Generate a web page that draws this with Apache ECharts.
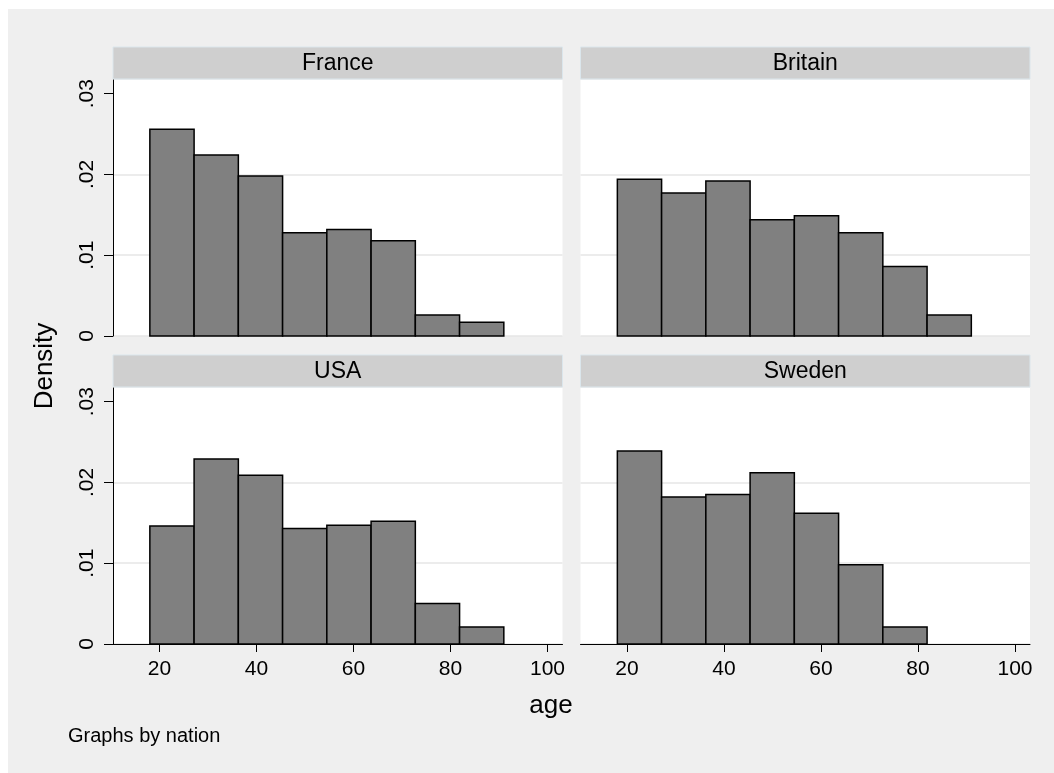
<!DOCTYPE html>
<html>
<head>
<meta charset="utf-8">
<script src="https://cdn.jsdelivr.net/npm/echarts@6/dist/echarts.min.js"></script>
<style>
html,body{margin:0;padding:0;background:#fff;}
#chart{position:absolute;left:0;top:0;width:1054px;height:773px;}
</style>
</head>
<body>
<div id="chart"></div>
<script>
// ---- data ----
const panels = ["France", "Britain", "USA", "Sweden"];
const binEdges = [18, 27.125, 36.25, 45.375, 54.5, 63.625, 72.75, 81.875, 91];
const france  = [0.0256, 0.0224, 0.0198, 0.0128, 0.0132, 0.0118, 0.0026, 0.0017];
const britain = [0.0194, 0.0177, 0.0192, 0.0144, 0.0149, 0.0128, 0.0086, 0.0026];
const usa     = [0.0146, 0.0229, 0.0209, 0.0143, 0.0147, 0.0152, 0.0050, 0.0021];
const sweden  = [0.0239, 0.0182, 0.0185, 0.0212, 0.0162, 0.0098, 0.0021];
const xTicks = [20, 40, 60, 80, 100];
const yTicks = [0, 0.01, 0.02, 0.03];
const yTickLabels = ["0", ".01", ".02", ".03"];
const xTitle = "age";
const yTitle = "Density";
const note = "Graphs by nation";

const seriesValues = [france, britain, usa, sweden];
const FONT = "'Liberation Sans', Arial, sans-serif";

const gridPos = [
  {left: 113, top: 80,  width: 449.5, height: 256},
  {left: 580.5, top: 80,  width: 449.5, height: 256},
  {left: 113, top: 388, width: 449.5, height: 256},
  {left: 580.5, top: 388, width: 449.5, height: 256}
];

const grids = gridPos.map(g => Object.assign({show: true, backgroundColor: '#fff', borderWidth: 0}, g));

const xAxes = gridPos.map((g, i) => {
  const bottom = i >= 2;
  return {
    type: 'value', gridIndex: i, min: 10.4, max: 103.1,
    show: bottom,
    axisLine: {show: true, onZero: false, lineStyle: {color: '#000', width: 1}},
    axisTick: {show: true, length: 8, customValues: xTicks, lineStyle: {color: '#000', width: 1}},
    axisLabel: {show: true, customValues: xTicks, fontSize: 21, color: '#000', fontFamily: FONT, margin: 15},
    splitLine: {show: false}
  };
});

const yAxes = gridPos.map((g, i) => {
  const left = (i % 2 === 0);
  return {
    type: 'value', gridIndex: i, min: 0, max: 0.0317, interval: 0.01,
    axisLine: {show: left, lineStyle: {color: '#000', width: 1}},
    axisTick: {show: left, length: 9, customValues: yTicks, lineStyle: {color: '#000', width: 1}},
    axisLabel: {show: left, customValues: yTicks, rotate: 90, fontSize: 21, color: '#000', fontFamily: FONT, margin: 15,
                formatter: v => { const k = yTicks.findIndex(t => Math.abs(t - v) < 1e-9); return k >= 0 ? yTickLabels[k] : ''; }},
    splitLine: {show: true, showMaxLine: false, lineStyle: {color: '#e6e6e6', width: 1.5}}
  };
});

const series = seriesValues.map((vals, i) => ({
  type: 'custom', xAxisIndex: i, yAxisIndex: i,
  data: vals.map((v, k) => [binEdges[k], binEdges[k + 1], v]),
  encode: {x: [0, 1], y: 2},
  renderItem: (params, api) => {
    const p0 = api.coord([api.value(0), api.value(2)]);
    const p1 = api.coord([api.value(1), 0]);
    return {
      type: 'rect',
      shape: {x: p0[0], y: p0[1], width: p1[0] - p0[0], height: p1[1] - p0[1]},
      style: {fill: '#808080', stroke: '#000', lineWidth: 1.5}
    };
  }
}));

const graphic = [
  {type: 'rect', shape: {x: 0, y: 0, width: 1054, height: 9}, style: {fill: '#fff'}, silent: true},
  {type: 'rect', shape: {x: 0, y: 0, width: 8, height: 773}, style: {fill: '#fff'}, silent: true}
];
gridPos.forEach((g, i) => {
  graphic.push({type: 'rect', shape: {x: g.left, y: g.top - 33, width: g.width, height: 32},
    style: {fill: '#cfcfcf', stroke: '#dbe6ec', lineWidth: 1}, silent: true});
  graphic.push({type: 'text', x: g.left + g.width / 2, y: g.top - 16,
    style: {text: panels[i], font: '23px ' + FONT, fill: '#000', align: 'center', verticalAlign: 'middle'}, silent: true});
});
graphic.push({type: 'text', x: 45, y: 366, rotation: Math.PI / 2,
  style: {text: yTitle, font: '26px ' + FONT, fill: '#000', align: 'center', verticalAlign: 'middle'}});
graphic.push({type: 'text', x: 551, y: 706,
  style: {text: xTitle, font: '26px ' + FONT, fill: '#000', align: 'center', verticalAlign: 'middle'}});
graphic.push({type: 'text', x: 68, y: 736,
  style: {text: note, font: '20px ' + FONT, fill: '#000', align: 'left', verticalAlign: 'middle'}});

const chart = echarts.init(document.getElementById('chart'), null, {renderer: 'canvas'});
chart.setOption({
  backgroundColor: '#efefef',
  animation: false,
  grid: grids,
  xAxis: xAxes,
  yAxis: yAxes,
  series: series,
  graphic: graphic
});
</script>
</body>
</html>
